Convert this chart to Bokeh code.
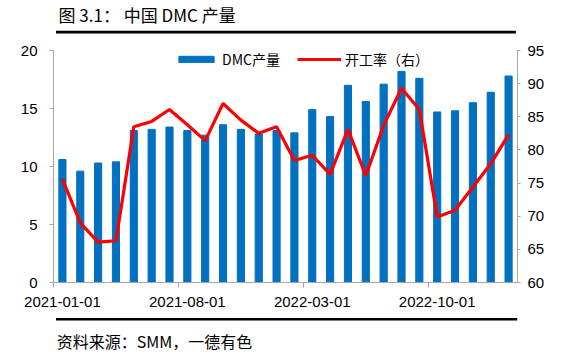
from bokeh.plotting import figure
from bokeh.layouts import column
from bokeh.models import (Range1d, LinearAxis, FixedTicker, Legend, LegendItem,
                          Label, ColumnDataSource)
from bokeh.embed import file_html
from bokeh.resources import INLINE

# ---- data ----
months = ["2021-01", "2021-02", "2021-03", "2021-04", "2021-05", "2021-06",
          "2021-07", "2021-08", "2021-09", "2021-10", "2021-11", "2021-12",
          "2022-01", "2022-02", "2022-03", "2022-04", "2022-05", "2022-06",
          "2022-07", "2022-08", "2022-09", "2022-10", "2022-11", "2022-12",
          "2023-01", "2023-02"]
dmc_output = [10.6, 9.6, 10.3, 10.4, 13.1, 13.2, 13.4, 13.1, 12.7, 13.6, 13.2, 12.8,
              13.1, 12.9, 14.9, 14.3, 17.0, 15.6, 17.1, 18.2, 17.6, 14.7, 14.8, 15.5,
              16.4, 17.8]
operating_rate = [75.6, 69.0, 66.1, 66.3, 83.5, 84.3, 86.1, 83.8, 81.4, 87.0, 84.5, 82.5,
                  83.5, 78.4, 79.2, 76.3, 83.1, 76.1, 83.7, 89.3, 86.1, 69.9, 70.9, 74.4,
                  77.9, 82.3]
label_months = ["2021-01", "2021-08", "2022-03", "2022-10"]
left_ticks = [0, 5, 10, 15, 20]
right_ticks = [60, 65, 70, 75, 80, 85, 90, 95]

title_text = "图 3.1： 中国 DMC 产量"
source_text = "资料来源：SMM，一德有色"
bar_name = "DMC产量"
line_name = "开工率（右）"

# ---- style ----
W = 559
BLUE = "#0070C0"
RED = "#FF0000"
GREY = "#A6A6A6"
NUM_FONT = "Liberation Sans"
CJK_FONT = "Noto Sans CJK SC"


def strip_fig(h):
    f = figure(width=W, height=h, output_backend="svg", toolbar_location=None,
               x_range=Range1d(0, W), y_range=Range1d(0, h), min_border=0,
               min_border_left=0, min_border_right=0, min_border_top=0,
               min_border_bottom=0, x_axis_type=None, y_axis_type=None,
               outline_line_color=None)
    f.xgrid.visible = False
    f.ygrid.visible = False
    if f.title is not None:
        f.title.visible = False
    return f


# header (page rows 0..40)
H1 = 40
head = strip_fig(H1)
head.add_layout(Label(x=6, y=H1 - 14, text=title_text, text_baseline="middle",
                      text_font=CJK_FONT, text_font_size="17px", text_color="black"))
# decorative rule under the title
head.quad(left=[3], right=[557], bottom=[H1 - 33], top=[H1 - 30.3],
          fill_color="black", line_color=None)

# main chart (page rows 40..315)
H2 = 275
idx = list(range(len(months)))
src = ColumnDataSource(dict(x=idx, prod=dmc_output, rate=operating_rate))

p = figure(width=W, height=H2, output_backend="svg", toolbar_location=None,
           x_range=Range1d(-0.5, len(months) - 0.5), y_range=Range1d(0, 20),
           min_border_left=53, min_border_right=42, min_border_top=10,
           min_border_bottom=33, outline_line_color=None)
if p.title is not None:
    p.title.visible = False
p.extra_y_ranges = {"rate": Range1d(60, 95)}
p.xgrid.visible = False
p.ygrid.visible = False

bars = p.vbar(x="x", top="prod", width=0.4, fill_color=BLUE, line_color=BLUE,
              source=src)
line = p.line(x="x", y="rate", line_color=RED, line_width=3.2, y_range_name="rate",
              source=src)

lab_pos = [months.index(m) for m in label_months]
xa = p.xaxis[0]
xa.ticker = FixedTicker(ticks=lab_pos, minor_ticks=[v - 0.5 for v in lab_pos])
xa.major_label_overrides = {v: m + "-01" for v, m in zip(lab_pos, label_months)}
xa.major_tick_line_color = None
xa.major_tick_in = 0
xa.major_tick_out = 0
xa.minor_tick_in = 0
xa.minor_tick_out = 5
xa.minor_tick_line_color = GREY
xa.axis_line_color = GREY
xa.major_label_standoff = 9
xa.major_label_text_font = NUM_FONT
xa.major_label_text_font_size = "15px"
xa.major_label_text_color = "black"

ya = p.yaxis[0]
ya.ticker = FixedTicker(ticks=left_ticks)
ya.major_tick_in = 0
ya.major_tick_out = 4
ya.major_tick_line_color = GREY
ya.minor_tick_line_color = None
ya.axis_line_color = GREY
ya.major_label_standoff = 12
ya.major_label_text_font = NUM_FONT
ya.major_label_text_font_size = "15px"
ya.major_label_text_color = "black"

ra = LinearAxis(y_range_name="rate", ticker=FixedTicker(ticks=right_ticks))
ra.major_tick_in = 0
ra.major_tick_out = 3
ra.major_tick_line_color = GREY
ra.minor_tick_line_color = None
ra.axis_line_color = GREY
ra.major_label_standoff = 7
ra.major_label_text_font = NUM_FONT
ra.major_label_text_font_size = "15px"
ra.major_label_text_color = "black"
p.add_layout(ra, "right")

legend = Legend(items=[LegendItem(label=bar_name, renderers=[bars]),
                       LegendItem(label=line_name, renderers=[line])],
                orientation="horizontal", location=(121, 213), padding=0, margin=0,
                spacing=17, label_standoff=4, glyph_width=44, glyph_height=8,
                label_height=14, background_fill_alpha=0, border_line_color=None,
                label_text_font=CJK_FONT, label_text_font_size="14px",
                label_text_color="black")
p.add_layout(legend)

# footer (page rows 315..353)
H3 = 38
foot = strip_fig(H3)
foot.quad(left=[3], right=[559], bottom=[H3 - 5], top=[H3 - 2.5],
          fill_color="black", line_color=None)
foot.add_layout(Label(x=4, y=H3 - 25, text=source_text, text_baseline="middle",
                      text_font=CJK_FONT, text_font_size="16px", text_color="black"))

page = column(head, p, foot, spacing=0)
open("out.html", "w").write(file_html(page, INLINE))
